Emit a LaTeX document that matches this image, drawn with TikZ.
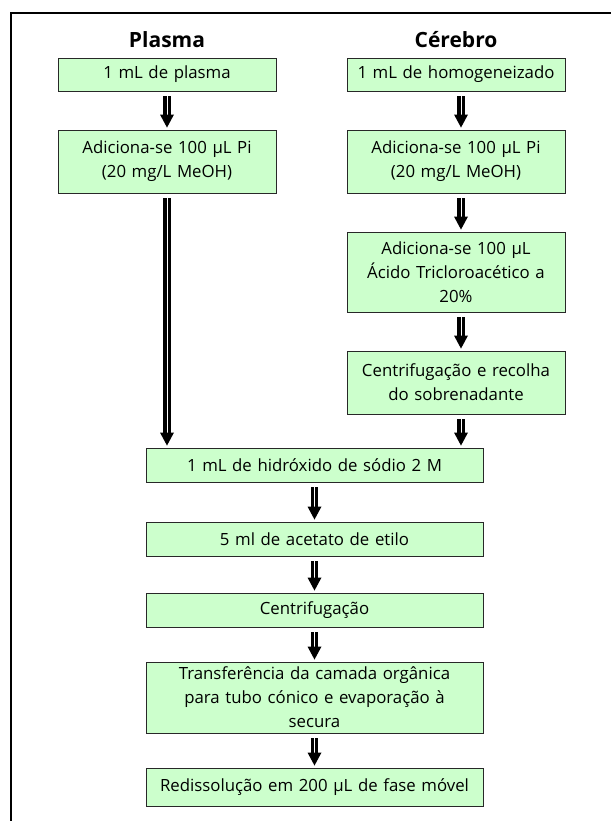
\documentclass[tikz,border=0pt]{standalone}
\usepackage{fontspec}
\setmainfont{Open Sans}
\usetikzlibrary{calc}
\definecolor{boxgreen}{RGB}{204,255,204}
\definecolor{boxline}{RGB}{40,40,40}
\tikzset{
  box/.style={draw=boxline, fill=boxgreen, line width=0.9pt, align=center,
    inner sep=0pt, font=\fontsize{16.8}{24}\selectfont},
  colbox/.style={box, minimum width=218pt, text width=214pt},
  widebox/.style={box, minimum width=337pt, text width=333pt},
  title/.style={font=\fontsize{21}{25}\selectfont\bfseries},
  shaft/.style={draw=black, line width=3.2pt, double=white, double distance=1pt, line cap=butt},
  frame/.style={line width=2pt, black}
}
\newcommand{\flowarrow}[3][0pt]{%
  \coordinate (fa-s) at ([xshift=#1,yshift=-5pt]#2.south);
  \coordinate (fa-e) at (fa-s |- #3.north);
  \draw[shaft] (fa-s) -- ([yshift=13pt]fa-e);
  \fill[black] ([yshift=2pt]fa-e) -- ++(-7pt,13pt) -- ++(14pt,0pt) -- cycle;}
\begin{document}
\begin{tikzpicture}[x=1pt,y=-1pt]
\useasboundingbox (0,0) rectangle (610,821);
\coordinate (ftl) at (11,13);
\coordinate (ftr) at (612,13);
\coordinate (fbl) at (11,823);
\draw[frame] (fbl) -- (ftl) -- (ftr);

\node[title] (tp) at (167,40) {Plasma};
\node[title] (tc) at (456,40) {Cérebro};

\node[colbox, minimum height=33pt] (p1) at (167,74.5) {1 mL de plasma};
\node[colbox, minimum height=63pt] (p2) at (167,161.5) {Adiciona-se 100 µL Pi\\(20 mg/L MeOH)};

\node[colbox, minimum height=33pt] (c1) at (456,74.5) {1 mL de homogeneizado};
\node[colbox, minimum height=63pt] (c2) at (456,161.5) {Adiciona-se 100 µL Pi\\(20 mg/L MeOH)};
\node[colbox, minimum height=80pt] (c3) at (456,272) {Adiciona-se 100 µL\\Ácido Tricloroacético a\\20\%};
\node[colbox, minimum height=63pt] (c4) at (456,382.5) {Centrifugação e recolha\\do sobrenadante};

\node[widebox, minimum height=34pt] (h1) at (314.5,465) {1 mL de hidróxido de sódio 2 M};
\node[widebox, minimum height=34pt] (h2) at (314.5,539) {5 ml de acetato de etilo};
\node[widebox, minimum height=34pt] (h3) at (314.5,610) {Centrifugação};
\node[widebox, minimum height=71pt] (h4) at (314.5,697.5) {Transferência da camada orgânica\\para tubo cónico e evaporação à\\secura};
\node[widebox, minimum height=38pt] (h5) at (314.5,787) {Redissolução em 200 µL de fase móvel};

\flowarrow{p1}{p2}
\flowarrow{p2}{h1}
\flowarrow[5pt]{c1}{c2}
\flowarrow[5pt]{c2}{c3}
\flowarrow[5pt]{c3}{c4}
\flowarrow[5pt]{c4}{h1}
\flowarrow{h1}{h2}
\flowarrow{h2}{h3}
\flowarrow{h3}{h4}
\flowarrow{h4}{h5}
\end{tikzpicture}
\end{document}
